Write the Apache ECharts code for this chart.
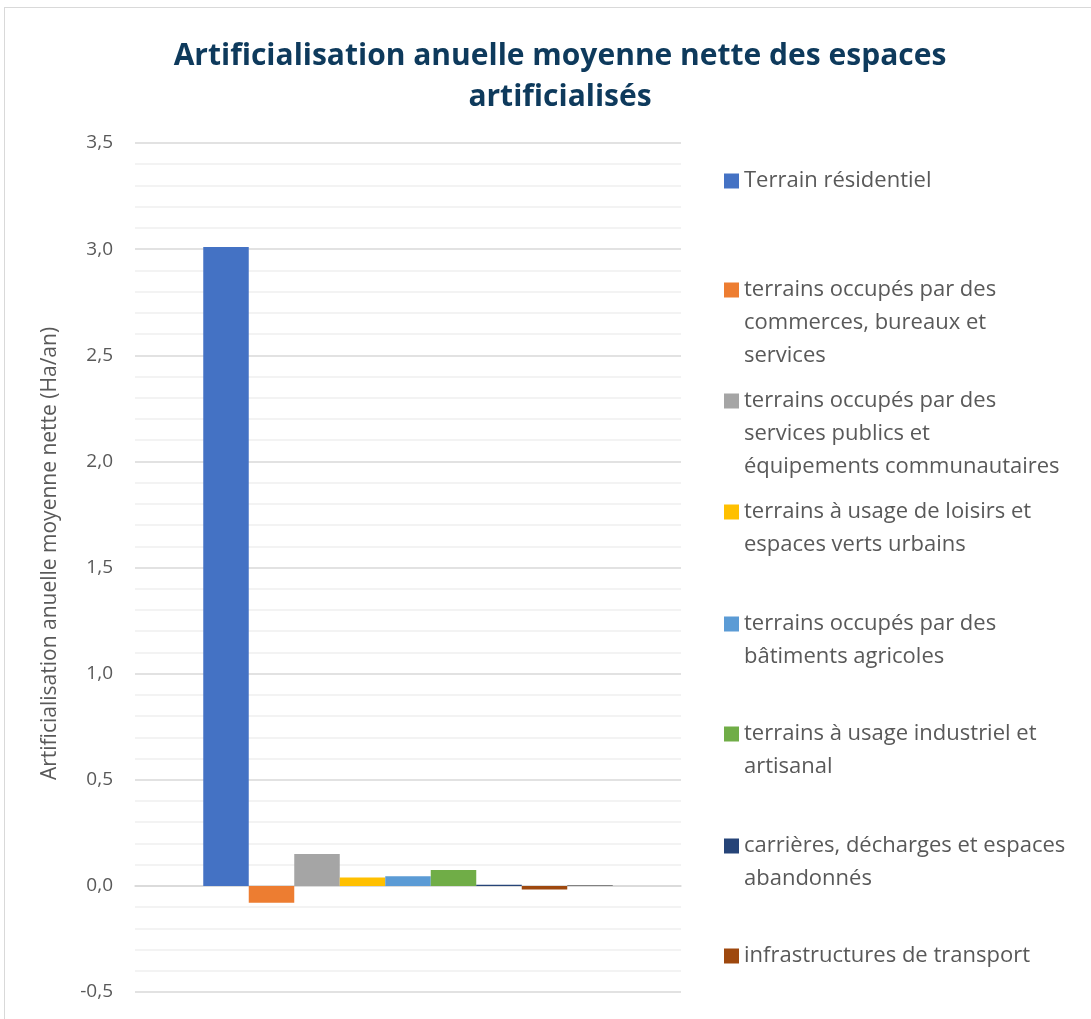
<!DOCTYPE html>
<html>
<head>
<meta charset="utf-8">
<script src="https://cdn.jsdelivr.net/npm/echarts@6/dist/echarts.min.js"></script>
<style>
  html, body { margin: 0; padding: 0; background: #fff; overflow: hidden; }
  #frame { position: absolute; left: 4px; top: 7px; width: 2000px; height: 2000px; border: 1.5px solid #d9d9d9; }
  #graph { position: absolute; left: 0; top: 0; width: 1091px; height: 1019px; }
</style>
</head>
<body>
<div id="frame"></div>
<div id="graph"></div>
<script>
// valeurs (Ha/an)
var seriesNames = [
    'Terrain résidentiel',
    'terrains occupés par des commerces, bureaux et services',
    'terrains occupés par des services publics et équipements communautaires',
    'terrains à usage de loisirs et espaces verts urbains',
    'terrains occupés par des bâtiments agricoles',
    'terrains à usage industriel et artisanal',
    'carrières, décharges et espaces abandonnés',
    'infrastructures de transport',
    'non renseigné'
];
var seriesValues = [3.01, -0.08, 0.15, 0.04, 0.045, 0.075, 0.005, -0.017, 0.003];
var legendLabels = [
    'Terrain résidentiel',
    'terrains occupés par des\ncommerces, bureaux et\nservices',
    'terrains occupés par des\nservices publics et\néquipements communautaires',
    'terrains à usage de loisirs et\nespaces verts urbains',
    'terrains occupés par des\nbâtiments agricoles',
    'terrains à usage industriel et\nartisanal',
    'carrières, décharges et espaces\nabandonnés',
    'infrastructures de transport'
];
var colors = ['#4472C4', '#ED7D31', '#A5A5A5', '#FFC000', '#5B9BD5', '#70AD47', '#264478', '#9E480E', '#636363'];

var legendY = [181, 290, 401, 512, 624, 734, 846, 956];
var lineH = 33;
var fontFamily = '"Open Sans", "Noto Sans", sans-serif';

var dom = document.getElementById('graph');
var chart = echarts.init(dom);

// Excel aligne le carré sur la première ligne : on ajoute des lignes vides
// au-dessus du texte pour que le bloc centré tombe au bon endroit
var legends = legendLabels.map(function (label, i) {
    var n = label.split('\n').length;
    var padded = label;
    for (var k = 1; k < n; k++) padded = ' \n' + padded;
    return {
        orient: 'vertical',
        left: 724,
        top: legendY[i] - (2 * n - 1) * lineH / 2,
        padding: 0,
        itemWidth: 15,
        itemHeight: 15,
        icon: 'rect',
        selectedMode: false,
        data: [seriesNames[i]],
        formatter: function () { return padded; },
        textStyle: {
            fontFamily: fontFamily,
            fontSize: 22,
            lineHeight: lineH,
            color: '#595959'
        }
    };
});

chart.setOption({
    color: colors,
    animation: false,
    title: {
        text: 'Artificialisation anuelle moyenne nette des espaces\nartificialisés',
        left: 555,
        top: 31,
        textAlign: 'center',
        textStyle: {
            fontFamily: fontFamily,
            fontSize: 30,
            fontWeight: 'bold',
            lineHeight: 41,
            color: '#0E3A5C'
        }
    },
    legend: legends,
    grid: {
        left: 135,
        right: 410,
        top: 143,
        bottom: 27,
        containLabel: false
    },
    xAxis: {
        type: 'category',
        data: [''],
        axisTick: { show: false },
        axisLabel: { show: false },
        axisLine: { lineStyle: { color: '#d9d9d9', width: 1.5 } }
    },
    yAxis: {
        type: 'value',
        min: -0.5,
        max: 3.5,
        interval: 0.5,
        name: 'Artificialisation anuelle moyenne nette (Ha/an)',
        nameLocation: 'middle',
        nameGap: 74,
        nameTextStyle: {
            fontFamily: fontFamily,
            fontSize: 21,
            color: '#595959',
            padding: [0, 0, 0, 28]
        },
        axisLine: { show: false },
        axisTick: { show: false },
        axisLabel: {
            margin: 22,
            fontFamily: fontFamily,
            fontSize: 19,
            color: '#595959',
            formatter: function (v) { return v.toFixed(1).replace('.', ','); }
        },
        splitLine: { lineStyle: { color: '#d9d9d9', width: 1.5 } },
        minorTick: { show: false, splitNumber: 5 },
        minorSplitLine: { show: true, lineStyle: { color: '#f0f0f0', width: 1.5 } }
    },
    series: seriesNames.map(function (name, i) {
        return {
            name: name,
            type: 'bar',
            barGap: '0%',
            barCategoryGap: '25%',
            data: [seriesValues[i]]
        };
    })
});
</script>
</body>
</html>
